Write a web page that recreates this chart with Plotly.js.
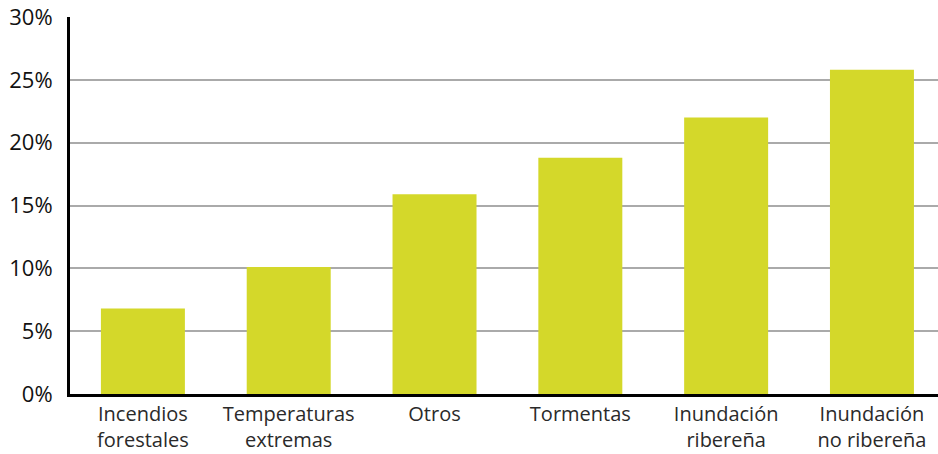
<!DOCTYPE html>
<html>
<head>
<meta charset="utf-8">
<script src="https://cdn.plot.ly/plotly-3.0.1.min.js"></script>
<style>html,body{margin:0;padding:0;background:#fff;}#chart{width:938px;height:454px;}</style>
</head>
<body>
<div id="chart"></div>
<script>
const categories = ["Incendios<br>forestales", "Temperaturas<br>extremas", "Otros", "Tormentas", "Inundación<br>ribereña", "Inundación<br>no ribereña"];
const values = [6.8, 10.1, 15.9, 18.8, 22.0, 25.8];
const tickVals = [0, 5, 10, 15, 20, 25, 30];
const tickText = ["0%", "5%", "10%", "15%", "20%", "25%", "30%"];

const trace = {
  type: "bar",
  x: categories,
  y: values,
  marker: {color: "#d4d82a"},
  hoverinfo: "x+y"
};

const layout = {
  width: 938,
  height: 454,
  margin: {l: 70, r: 0, t: 17, b: 60},
  paper_bgcolor: "#fff",
  plot_bgcolor: "#fff",
  bargap: 0.424,
  font: {family: "'Open Sans', sans-serif", size: 20, color: "#222"},
  showlegend: false,
  xaxis: {
    type: "category",
    range: [-0.5, 5.453],
    showline: true,
    linecolor: "#000",
    linewidth: 3,
    ticks: "",
    ticklabelstandoff: 0,
    tickfont: {family: "'Open Sans', sans-serif", size: 20, color: "#2a2a2a"},
    showgrid: false
  },
  yaxis: {
    range: [0, 30],
    tickvals: tickVals,
    ticktext: tickText,
    showline: true,
    linecolor: "#000",
    linewidth: 3,
    gridcolor: "#aaaaaa",
    gridwidth: 2,
    zeroline: false,
    ticks: "",
    ticklen: 0,
    ticklabelstandoff: 10,
    tickfont: {family: "'Open Sans', sans-serif", size: 22, color: "#111"}
  }
};

Plotly.newPlot("chart", [trace], layout, {displayModeBar: false, staticPlot: true});
</script>
</body>
</html>
